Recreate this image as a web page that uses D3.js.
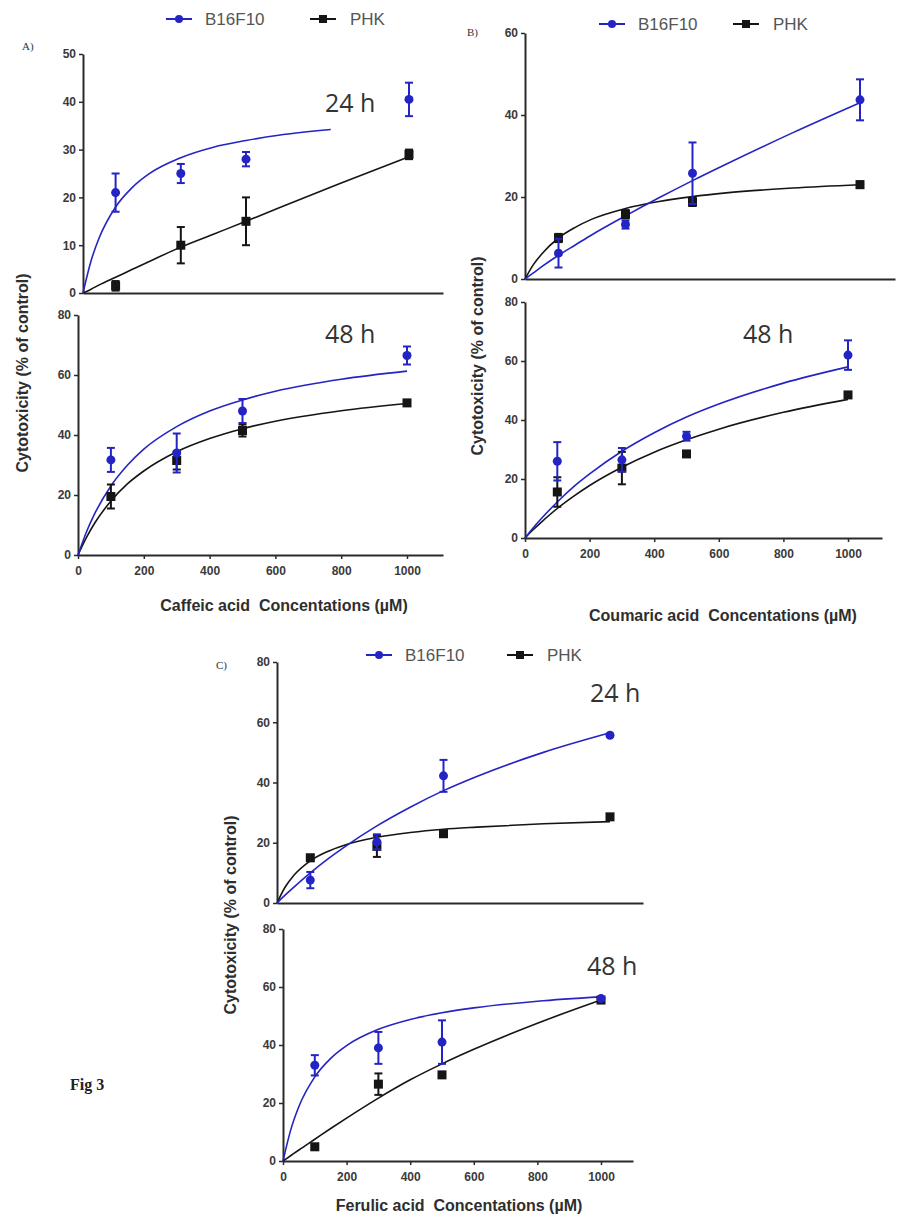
<!DOCTYPE html>
<html>
<head>
<meta charset="utf-8">
<script src="https://cdn.jsdelivr.net/npm/d3@7"></script>
<style>
  body { margin: 0; background: #fff; }
  svg { display: block; }
  .tick text { font-family: Arial, "Liberation Sans", sans-serif; font-weight: bold; font-size: 12px; fill: #3a3a3a; }
  .axis path, .axis line { stroke: #2a2a2a; }
  .axis path { stroke-width: 2; }
  .axis line { stroke-width: 1.5; }
  .axis-label { font-family: Arial, "Liberation Sans", sans-serif; font-weight: bold; font-size: 16px; fill: #2e2e2e; }
  .time-label { font-family: "Open Sans", sans-serif; font-size: 25px; fill: #333; }
  .legend-text { font-family: Arial, "Liberation Sans", sans-serif; font-size: 17px; fill: #555; }
  .panel-tag { font-family: "Liberation Serif", serif; font-size: 11px; fill: #333; }
</style>
</head>
<body>
<div id="chart"></div>
<script>
// concentrations tested (µM)
const concs = [100, 300, 500, 1000];
const xTicks = [0, 200, 400, 600, 800, 1000];
const fitX = [0, 25, 50, 100, 150, 200, 300, 400, 500, 600, 800, 1000];

// A) caffeic acid
const caffeic24B16 = [21, 25, 28, 40.5];
const caffeic24B16Err = [4, 2, 1.5, 3.5];
const caffeic24Phk = [1.5, 10, 15, 29];
const caffeic24PhkErr = [1, 3.8, 5, 1];
const caffeic24B16FitX = [0, 25, 50, 100, 150, 200, 300, 400, 500, 600, 760];
const caffeic24B16Fit = [0, 6.8, 11.6, 18, 22, 24.8, 28.3, 30.5, 31.9, 33, 34.2];
const caffeic24PhkFit = [0, 0.8, 1.7, 3.3, 4.9, 6.5, 9.6, 12.3, 15, 17.8, 23.2, 28.5];
const caffeic48B16 = [31.7, 34, 48, 66.5];
const caffeic48B16Err = [4, 6.5, 4, 3];
const caffeic48Phk = [19.5, 31.5, 41.5, 50.7];
const caffeic48PhkErr = [4, 3, 2, 0.8];
const caffeic48B16Fit = [0, 7.5, 13.6, 23, 29.9, 35.3, 42.8, 48, 51.7, 54.6, 58.6, 61.3];
const caffeic48PhkFit = [0, 5.7, 10.5, 18, 23.7, 28, 34.4, 38.8, 42.1, 44.6, 48.1, 50.5];

// B) coumaric acid
const coumaric24B16 = [6.3, 13.3, 25.8, 43.7];
const coumaric24B16Err = [3.5, 1, 7.5, 5];
const coumaric24Phk = [10, 15.8, 18.8, 23];
const coumaric24PhkErr = [1, 1, 1, 0.8];
const coumaric24B16Fit = [0, 1.5, 3, 5.8, 8.3, 10.8, 15.4, 19.8, 24, 28, 35.7, 43];
const coumaric24PhkFit = [0, 3.5, 6.1, 10, 12.6, 14.6, 17.2, 18.9, 20.1, 21, 22.2, 23];
const coumaric48B16 = [26, 26.5, 34.5, 62];
const coumaric48B16Err = [6.5, 4, 1.5, 5];
const coumaric48Phk = [15.6, 23.7, 28.5, 48.5];
const coumaric48PhkErr = [5, 5.5, 0.8, 0.8];
const coumaric48B16Fit = [0, 3.4, 6.5, 12.2, 17.3, 21.7, 29.4, 35.7, 41, 45.4, 52.5, 58];
const coumaric48PhkFit = [0, 2.8, 5.3, 10, 14.1, 17.8, 24, 29.1, 33.3, 36.9, 42.6, 47];

// C) ferulic acid
const ferulic24B16 = [7.6, 20.3, 42.2, 55.7];
const ferulic24B16Err = [2.7, 2.5, 5.3, 0.5];
const ferulic24Phk = [15, 18.8, 23, 28.6];
const ferulic24PhkErr = [1, 3.5, 1, 0.8];
const ferulic24B16Fit = [0, 2.7, 5.2, 10, 14.4, 18.4, 25.6, 31.8, 37.3, 42, 50, 56.5];
const ferulic24PhkFit = [0, 5.4, 9.1, 14, 17, 19.1, 21.8, 23.4, 24.5, 25.2, 26.3, 27];
const ferulic48B16 = [33, 39, 41, 56];
const ferulic48B16Err = [3.5, 5.5, 7.5, 0.5];
const ferulic48Phk = [4.9, 26.5, 29.7, 55.5];
const ferulic48PhkErr = [0.8, 3.7, 0.8, 0.8];
const ferulic48B16Fit = [0, 11, 18.8, 29, 35.4, 39.8, 45.4, 48.8, 51.1, 52.8, 55.1, 56.6];
const ferulic48PhkFit = [0, 1.9, 3.8, 7.5, 11.2, 14.8, 21.7, 28, 33.5, 38.5, 47.5, 55.5];

const yTicks50 = [0, 10, 20, 30, 40, 50];
const yTicks60 = [0, 20, 40, 60];
const yTicks80 = [0, 20, 40, 60, 80];

const blue = '#2424c4';
const black = '#151515';

const svg = d3.select('#chart').append('svg')
    .attr('width', 900)
    .attr('height', 1218);
svg.append('rect').attr('width', 900).attr('height', 1218).attr('fill', '#fff');

// panel geometry (pixels) + which data go in
const panels = [
  { b16: caffeic24B16, b16Err: caffeic24B16Err, phk: caffeic24Phk, phkErr: caffeic24PhkErr,
    b16FitX: caffeic24B16FitX, b16Fit: caffeic24B16Fit, phkFit: caffeic24PhkFit,
    yMax: 50, yTicks: yTicks50, showX: false,
    left: 83, x1000: 409, right: 443, yZero: 293, yTop: 54 },
  { b16: caffeic48B16, b16Err: caffeic48B16Err, phk: caffeic48Phk, phkErr: caffeic48PhkErr,
    b16FitX: fitX, b16Fit: caffeic48B16Fit, phkFit: caffeic48PhkFit,
    yMax: 80, yTicks: yTicks80, showX: true,
    left: 78, x1000: 407, right: 443, yZero: 555, yTop: 315 },
  { b16: coumaric24B16, b16Err: coumaric24B16Err, phk: coumaric24Phk, phkErr: coumaric24PhkErr,
    b16FitX: fitX, b16Fit: coumaric24B16Fit, phkFit: coumaric24PhkFit,
    yMax: 60, yTicks: yTicks60, showX: false,
    left: 525, x1000: 860, right: 895, yZero: 279, yTop: 33 },
  { b16: coumaric48B16, b16Err: coumaric48B16Err, phk: coumaric48Phk, phkErr: coumaric48PhkErr,
    b16FitX: fitX, b16Fit: coumaric48B16Fit, phkFit: coumaric48PhkFit,
    yMax: 80, yTicks: yTicks80, showX: true,
    left: 525, x1000: 848, right: 882, yZero: 538, yTop: 302 },
  { b16: ferulic24B16, b16Err: ferulic24B16Err, phk: ferulic24Phk, phkErr: ferulic24PhkErr,
    b16FitX: fitX, b16Fit: ferulic24B16Fit, phkFit: ferulic24PhkFit,
    yMax: 80, yTicks: yTicks80, showX: false,
    left: 277, x1000: 610, right: 643, yZero: 903, yTop: 662 },
  { b16: ferulic48B16, b16Err: ferulic48B16Err, phk: ferulic48Phk, phkErr: ferulic48PhkErr,
    b16FitX: fitX, b16Fit: ferulic48B16Fit, phkFit: ferulic48PhkFit,
    yMax: 80, yTicks: yTicks80, showX: true,
    left: 283, x1000: 601, right: 633, yZero: 1161, yTop: 929 }
];

panels.forEach(drawPanel);

function drawPanel(p) {
    const x = d3.scaleLinear().domain([0, 1000]).range([p.left, p.x1000]);
    const y = d3.scaleLinear().domain([0, p.yMax]).range([p.yZero, p.yTop]);
    const xAxisScale = d3.scaleLinear().domain([0, x.invert(p.right)]).range([p.left, p.right]);

    const g = svg.append('g');

    g.append('g')
        .attr('class', 'axis')
        .attr('transform', `translate(0,${p.yZero})`)
        .call(d3.axisBottom(xAxisScale)
            .tickValues(p.showX ? xTicks : [])
            .tickFormat(d3.format('d'))
            .tickSize(4).tickSizeOuter(0).tickPadding(7));

    g.append('g')
        .attr('class', 'axis')
        .attr('transform', `translate(${p.left},0)`)
        .call(d3.axisLeft(y).tickValues(p.yTicks).tickSize(4).tickSizeOuter(0).tickPadding(3));

    const line = d3.line()
        .x(d => x(d[0]))
        .y(d => y(d[1]))
        .curve(d3.curveMonotoneX);

    g.append('path')
        .datum(fitX.map((v, i) => [v, p.phkFit[i]]))
        .attr('d', line)
        .attr('fill', 'none')
        .attr('stroke', black)
        .attr('stroke-width', 1.6);

    g.append('path')
        .datum(p.b16FitX.map((v, i) => [v, p.b16Fit[i]]))
        .attr('d', line)
        .attr('fill', 'none')
        .attr('stroke', blue)
        .attr('stroke-width', 1.6);

    drawSeries(g, x, y, p.phk, p.phkErr, black, 'square');
    drawSeries(g, x, y, p.b16, p.b16Err, blue, 'circle');
}

function drawSeries(g, x, y, vals, errs, color, shape) {
    const pts = concs.map((c, i) => ({ c: c, v: vals[i], e: errs[i] }));
    const cap = 4;

    const bars = g.append('g').selectAll('g').data(pts).enter().append('g');
    bars.append('line')
        .attr('x1', d => x(d.c)).attr('x2', d => x(d.c))
        .attr('y1', d => y(d.v - d.e)).attr('y2', d => y(d.v + d.e))
        .attr('stroke', color).attr('stroke-width', 2);
    bars.append('line')
        .attr('x1', d => x(d.c) - cap).attr('x2', d => x(d.c) + cap)
        .attr('y1', d => y(d.v + d.e)).attr('y2', d => y(d.v + d.e))
        .attr('stroke', color).attr('stroke-width', 2);
    bars.append('line')
        .attr('x1', d => x(d.c) - cap).attr('x2', d => x(d.c) + cap)
        .attr('y1', d => y(d.v - d.e)).attr('y2', d => y(d.v - d.e))
        .attr('stroke', color).attr('stroke-width', 2);

    if (shape === 'square') {
        g.append('g').selectAll('rect').data(pts).enter().append('rect')
            .attr('x', d => x(d.c) - 4.5).attr('y', d => y(d.v) - 4.5)
            .attr('width', 9).attr('height', 9)
            .attr('fill', color);
    } else {
        g.append('g').selectAll('circle').data(pts).enter().append('circle')
            .attr('cx', d => x(d.c)).attr('cy', d => y(d.v))
            .attr('r', 4.5)
            .attr('fill', color);
    }
}

// legends
function legend(xPos, yPos, phkX) {
    const lg = svg.append('g');
    lg.append('line').attr('x1', xPos).attr('x2', xPos + 26).attr('y1', yPos).attr('y2', yPos)
        .attr('stroke', blue).attr('stroke-width', 2);
    lg.append('circle').attr('cx', xPos + 13).attr('cy', yPos).attr('r', 4).attr('fill', blue);
    lg.append('text').attr('class', 'legend-text').attr('x', xPos + 39).attr('y', yPos + 6).text('B16F10');
    lg.append('line').attr('x1', phkX).attr('x2', phkX + 26).attr('y1', yPos).attr('y2', yPos)
        .attr('stroke', black).attr('stroke-width', 2);
    lg.append('rect').attr('x', phkX + 9).attr('y', yPos - 4).attr('width', 8).attr('height', 8).attr('fill', black);
    lg.append('text').attr('class', 'legend-text').attr('x', phkX + 40).attr('y', yPos + 6).text('PHK');
}
legend(166, 19, 310);
legend(599, 24, 733);
legend(366, 655, 507);

// panel tags
svg.append('text').attr('class', 'panel-tag').attr('x', 22).attr('y', 50).text('A)');
svg.append('text').attr('class', 'panel-tag').attr('x', 467).attr('y', 36).text('B)');
svg.append('text').attr('class', 'panel-tag').attr('x', 216).attr('y', 669).text('C)');

// time labels
const timeLabels = [
    { t: '24 h', x: 325, y: 112 },
    { t: '48 h', x: 325, y: 343 },
    { t: '48 h', x: 743, y: 343 },
    { t: '24 h', x: 590, y: 702 },
    { t: '48 h', x: 587, y: 975 }
];
svg.selectAll('.time-label').data(timeLabels).enter().append('text')
    .attr('class', 'time-label')
    .attr('x', d => d.x).attr('y', d => d.y)
    .text(d => d.t);

// axis titles
const xTitles = [
    { t: 'Caffeic acid  Concentations (µM)', x: 284, y: 611 },
    { t: 'Coumaric acid  Concentations (µM)', x: 723, y: 621 },
    { t: 'Ferulic acid  Concentations (µM)', x: 459, y: 1211 }
];
svg.selectAll('.x-title').data(xTitles).enter().append('text')
    .attr('class', 'axis-label x-title')
    .attr('x', d => d.x).attr('y', d => d.y)
    .attr('text-anchor', 'middle')
    .style('white-space', 'pre')
    .text(d => d.t);

const yTitles = [
    { x: 28, y: 373 },
    { x: 483, y: 356 },
    { x: 236, y: 915 }
];
svg.selectAll('.y-title').data(yTitles).enter().append('text')
    .attr('class', 'axis-label y-title')
    .attr('transform', d => `translate(${d.x},${d.y}) rotate(-90)`)
    .attr('text-anchor', 'middle')
    .text('Cytotoxicity (% of control)');

svg.append('text')
    .attr('x', 70).attr('y', 1090)
    .attr('font-family', '"Liberation Serif", serif')
    .attr('font-weight', 'bold')
    .attr('font-size', 16)
    .attr('fill', '#222')
    .text('Fig 3');
</script>
</body>
</html>
